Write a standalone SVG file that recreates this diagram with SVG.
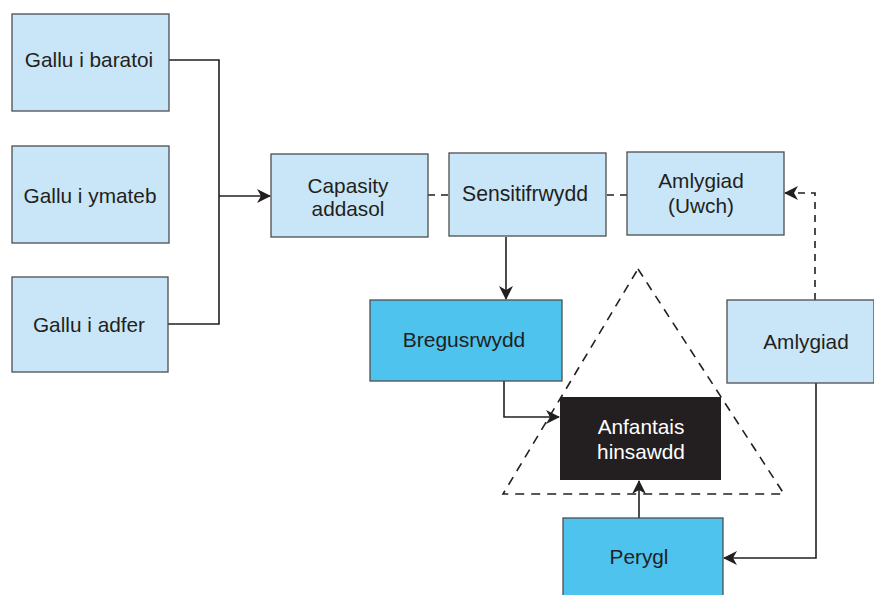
<svg xmlns="http://www.w3.org/2000/svg" width="874" height="595" viewBox="0 0 874 595">
<defs>
<style>
.lb{fill:#c9e6f8;stroke:#4d4d4f;stroke-width:1.3}
.mb{fill:#4dc3ee;stroke:#4d4d4f;stroke-width:1.3}
.bk{fill:#231f20}
text{font-family:"Liberation Sans",Arial,sans-serif;font-size:20.8px;fill:#231f20;text-anchor:middle}
.wt{fill:#ffffff}
.c{fill:none;stroke:#231f20;stroke-width:1.6}
.d{fill:none;stroke:#231f20;stroke-width:1.6;stroke-dasharray:7 6}
</style>
<marker id="ah" viewBox="0 0 14 14" refX="13" refY="7" markerWidth="14" markerHeight="14" markerUnits="userSpaceOnUse" orient="auto">
<path d="M0,0 L14,7 L0,14 L4,7 Z" fill="#231f20"/>
</marker>
</defs>
<g id="triangle"><path d="M638,269 L784,494 L503,494 Z" fill="none" stroke="#231f20" stroke-width="1.6" stroke-dasharray="9 7"/></g>
<g id="connectors">
<path class="c" d="M169,60 H219 V324 H168"/>
<path class="c" d="M219,196 H270" marker-end="url(#ah)"/>
<path class="d" d="M428,195 H449"/>
<path class="d" d="M607,195 H627"/>
<path class="c" d="M506,237 V299" marker-end="url(#ah)"/>
<path class="c" d="M504,381 V417 H559" marker-end="url(#ah)"/>
<path class="c" d="M639,518 V481" marker-end="url(#ah)"/>
<path class="c" d="M816,383 V558 H724" marker-end="url(#ah)"/>
<path class="d" d="M815,300 V193 H785" marker-end="url(#ah)"/>
</g>
<g id="gallu-baratoi"><rect class="lb" x="12" y="14" width="157" height="97"/><text x="89" y="67">Gallu i baratoi</text></g>
<g id="gallu-ymateb"><rect class="lb" x="12" y="146" width="157" height="97"/><text x="90" y="203">Gallu i ymateb</text></g>
<g id="gallu-adfer"><rect class="lb" x="12" y="277" width="156" height="95"/><text x="89" y="332">Gallu i adfer</text></g>
<g id="capasity"><rect class="lb" x="271" y="154" width="157" height="83"/><text x="348" y="193">Capasity</text><text x="348" y="216">addasol</text></g>
<g id="sensitifrwydd"><rect class="lb" x="449" y="153" width="157" height="83"/><text x="525" y="201" style="font-size:21.2px">Sensitifrwydd</text></g>
<g id="amlygiad-uwch"><rect class="lb" x="627" y="152" width="157" height="83"/><text x="701" y="188">Amlygiad</text><text x="701" y="213">(Uwch)</text></g>
<g id="bregusrwydd"><rect class="mb" x="370" y="300" width="192" height="81"/><text x="464" y="347" style="font-size:21px">Bregusrwydd</text></g>
<g id="amlygiad"><rect class="lb" x="727" y="300" width="147" height="83"/><text x="806" y="349">Amlygiad</text></g>
<g id="anfantais"><rect class="bk" x="560" y="397" width="161" height="83"/><text class="wt" x="641" y="434">Anfantais</text><text class="wt" x="641" y="459">hinsawdd</text></g>
<g id="perygl"><rect class="mb" x="563" y="518" width="160" height="82"/><text x="639" y="564">Perygl</text></g>
</svg>
